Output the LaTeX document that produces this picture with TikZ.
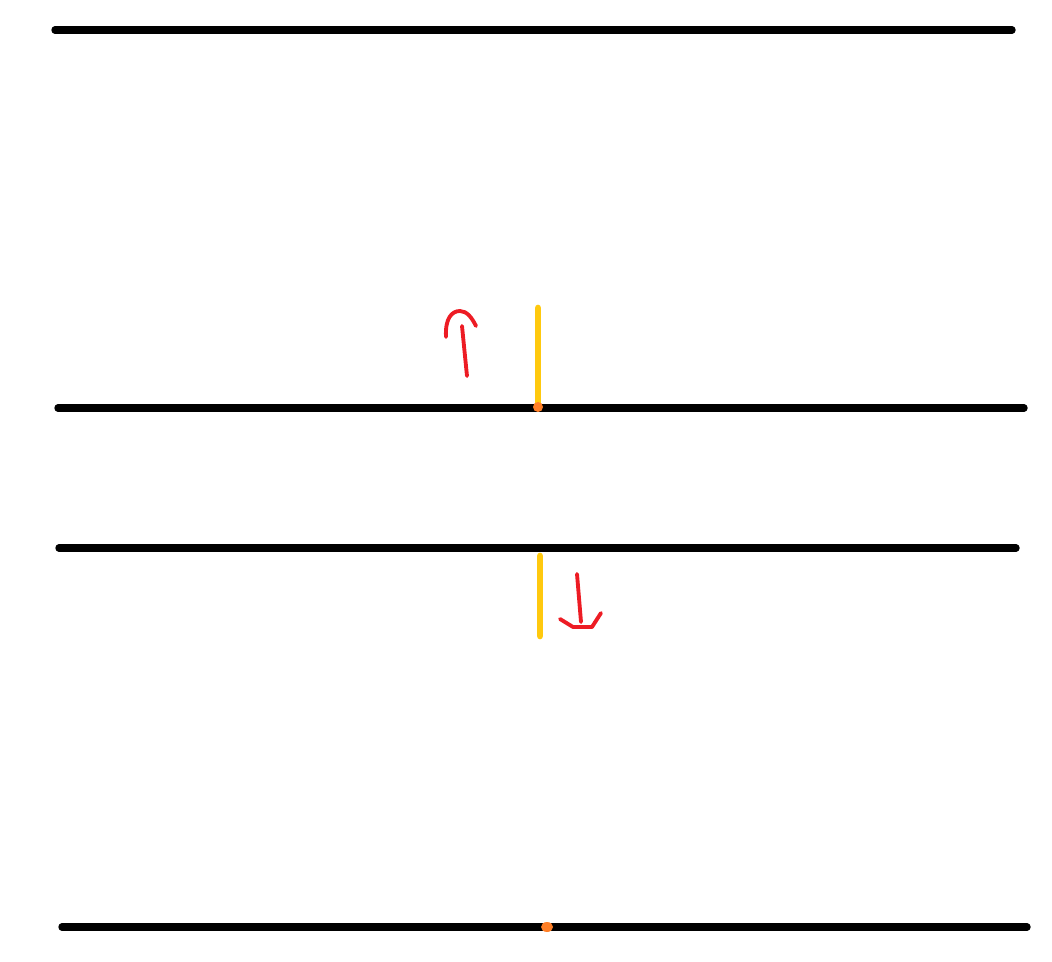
\documentclass[tikz,border=0pt]{standalone}
\definecolor{sketchred}{RGB}{237,28,36}
\definecolor{sketchyellow}{RGB}{255,201,14}
\definecolor{sketchorange}{RGB}{255,127,39}
\begin{document}
\begin{tikzpicture}[
  x=0.02cm, y=-0.02cm,
  rail/.style={line width=4.2pt, line cap=round, black},
  bar/.style={line width=3.8pt, line cap=round, sketchyellow},
  stroke/.style={line width=2.2pt, line cap=round, line join=round, sketchred},
  blob/.style={fill=sketchorange, draw=none}
]
\useasboundingbox (0,0) rectangle (1052,962);

% =======================
% Horizontal lines
% =======================
\coordinate (L1a) at (55,30);   \coordinate (L1b) at (1012,30);
\coordinate (L2a) at (58,408);  \coordinate (L2b) at (1024,408);
\coordinate (L3a) at (59,548);  \coordinate (L3b) at (1016,548);
\coordinate (L4a) at (62,927);  \coordinate (L4b) at (1027,927);

\foreach \u/\v in {L1a/L1b,L2a/L2b,L3a/L3b,L4a/L4b}{
  \draw[rail] (\u)--(\v);
}

% =======================
% Yellow bars
% =======================
\coordinate (Y1a) at (538,308); \coordinate (Y1b) at (538,406);
\coordinate (Y2a) at (540,556); \coordinate (Y2b) at (540,636);
\draw[bar] (Y1a)--(Y1b);
\draw[bar] (Y2a)--(Y2b);

% Orange dots
\fill[blob] (538,407) circle (5);
\fill[blob] (547,927) ellipse (6 and 5);

% =======================
% Red arrows
% =======================
% upward arrow
\coordinate (U1) at (462,326); \coordinate (U2) at (467,376);
\draw[stroke] (U1)--(U2);
\draw[stroke] (446,337) .. controls (445,318) and (452,311) .. (460,311)
  .. controls (467,311) and (472,318) .. (476,326);

% downward arrow
\coordinate (D1) at (577,574); \coordinate (D2) at (581,622);
\draw[stroke] (D1)--(D2);
\draw[stroke] (560,619) -- (573,627) -- (592,627) -- (601,613);

\end{tikzpicture}
\end{document}
